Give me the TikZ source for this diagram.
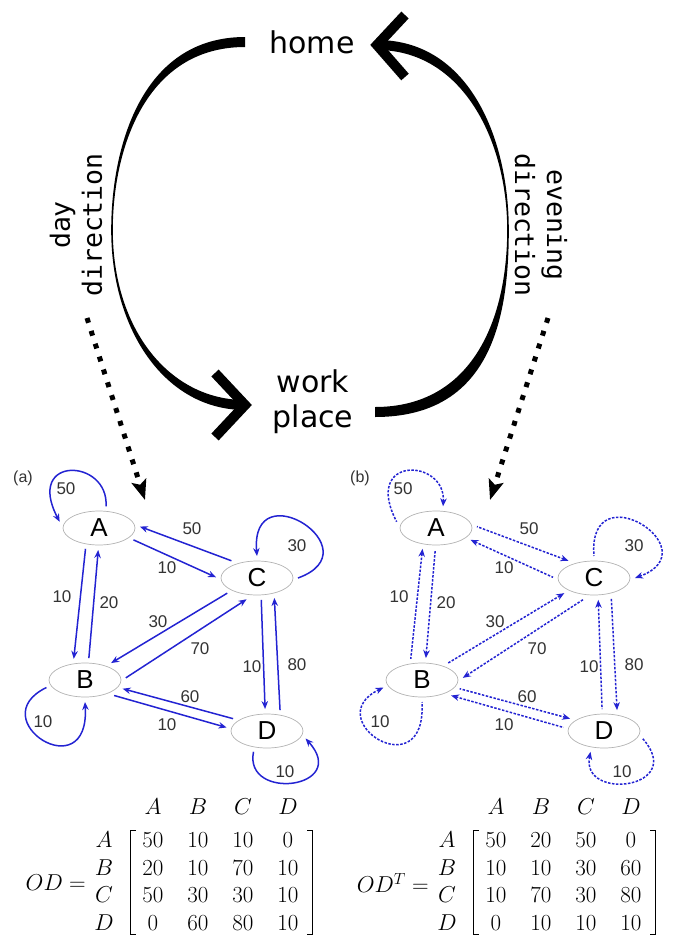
\RequirePackage{fix-cm}
\documentclass[tikz,border=0pt]{standalone}
\usepackage[no-math]{fontspec}
\setmainfont{Liberation Sans}
\newfontfamily\handfont{DejaVu Sans}
\newfontfamily\monofont{DejaVu Sans Mono}
\usetikzlibrary{arrows.meta,shapes.geometric,matrix}
\definecolor{odblue}{RGB}{35,35,210}
\definecolor{labgray}{RGB}{51,51,51}
\tikzset{
  zone/.style={ellipse, draw=gray!60, line width=0.7pt, minimum width=72pt, minimum height=34pt, inner sep=0pt, outer sep=5pt, font=\fontsize{26}{26}\selectfont},
  flowa/.style={draw=odblue, line width=1.5pt, -{Stealth[length=8pt,width=6.5pt]}},
  flowb/.style={draw=odblue, line width=1.5pt, dash pattern=on 2.5pt off 1.5pt, {Stealth[length=8pt,width=6.5pt]}-},
  wt/.style={text=labgray, font=\fontsize{17}{17}\selectfont, inner sep=0pt},
  panel/.style={text=labgray, font=\fontsize{16}{16}\selectfont, inner sep=0pt},
  hand/.style={font=\handfont\fontsize{30}{35}\selectfont, align=center, inner sep=0pt},
  dirtext/.style={font=\monofont\fontsize{26.5}{32}\selectfont, align=center, inner sep=0pt},
  chev/.style={line width=10pt, miter limit=10, line join=miter},
  dots/.style={line width=5pt, dash pattern=on 5pt off 8.5pt, -{Stealth[length=20pt,width=15pt,inset=4pt]}},
  odmat/.style={matrix of math nodes, inner sep=0pt, column sep=15pt, row sep=8.5pt,
    nodes={minimum width=30pt, text height=15pt, text depth=4pt, inner sep=0pt, font=\fontsize{23}{27}\selectfont},
    column 1/.style={nodes={minimum width=38pt}}},
  brk/.style={line width=1.1pt}
}
\begin{document}
\begin{tikzpicture}[x=1pt, y=-1pt]
\useasboundingbox (0,0) rectangle (674,938);

% day / evening cycle
\node[hand] (home) at (312,42) {home};
\node[hand] (work) at (313,402) {work\\place};
\node[dirtext, rotate=90] (dayLbl) at (76,225) {day\\direction};
\node[dirtext, rotate=-90] (eveLbl) at (541,225) {evening\\direction};

\coordinate (dayS) at (245,42);
\coordinate (dayM) at (112,230);
\coordinate (dayE) at (245,405);
\coordinate (eveS) at (375,412);
\coordinate (eveM) at (508,230);
\coordinate (eveE) at (377,45);

\fill ([yshift=5pt]dayS) .. controls +(-105,0) and +(0,-80) .. ([xshift=-0.8pt]dayM)
  .. controls +(0,100) and +(-80,0) .. ([yshift=-5pt]dayE) -- ([yshift=5pt]dayE)
  .. controls +(-75,0) and +(0,100) .. ([xshift=0.8pt]dayM)
  .. controls +(0,-80) and +(-100,0) .. ([yshift=-5pt]dayS) -- cycle;
\draw[chev] ([shift={(-30,-32)}]dayE) -- (dayE) -- ([shift={(-30,32)}]dayE);

\fill ([yshift=-5pt]eveS) .. controls +(115,0) and +(0,90) .. ([xshift=0.8pt]eveM)
  .. controls +(0,-90) and +(93,0) .. ([yshift=5pt]eveE) -- ([yshift=-5pt]eveE)
  .. controls +(85,0) and +(0,-90) .. ([xshift=-0.8pt]eveM)
  .. controls +(0,90) and +(97,0) .. ([yshift=5pt]eveS) -- cycle;
\draw[chev] ([shift={(28,-30)}]eveE) -- (eveE) -- ([shift={(28,32)}]eveE);

\coordinate (dayTail) at (87,318);
\coordinate (dayTip) at (145,500);
\coordinate (eveTail) at (548,318);
\coordinate (eveTip) at (490,500);
\draw[dots] (dayTail) -- (dayTip);
\draw[dots] (eveTail) -- (eveTip);

% the two flow graphs, (b) is (a) with every flow reversed
\foreach \dx/\pan/\kind in {0/a/flowa, 337/b/flowb} {
  \node[panel] (tag\pan) at (23+\dx,478) {(\pan)};
  \node[zone] (A\pan) at (99+\dx,528) {A};
  \node[zone] (C\pan) at (257+\dx,578) {C};
  \node[zone] (B\pan) at (85+\dx,680) {B};
  \node[zone] (D\pan) at (267+\dx,731) {D};
  \foreach \src/\sa/\dst/\da in {C/146/A/2, A/-19/C/179, A/237/B/118, B/80/A/268, C/207/B/33,
      B/3/C/244, C/281/D/95, D/58/C/311, D/160/B/347, B/332/D/175}
    \draw[\kind] (\src\pan.\sa) -- (\dst\pan.\da);
  \draw[\kind] (A\pan.72) .. controls +(3,-48) and +(-35,-67) .. (A\pan.171);
  \draw[\kind] (C\pan.0) .. controls +(77,-28) and +(-7,-86) .. (C\pan.90);
  \draw[\kind] (B\pan.191) .. controls +(-66,32) and +(5,88) .. (B\pan.270);
  \draw[\kind] (D\pan.237) .. controls +(-10,50) and +(45,50) .. (D\pan.349);
  \foreach \i/\x/\y/\w in {1/66/489/50, 2/192/529/50, 3/167/568/10, 4/297/546/30, 5/62/597/10,
      6/109/603/20, 7/158/622/30, 8/200/649/70, 9/252/667/10, 10/297/665/80,
      11/190/697/60, 12/167/725/10, 13/43/722/10, 14/285/772/10}
    \node[wt] (w\i\pan) at (\x+\dx,\y) {\w};
}

% matrices
\matrix (ODa) [odmat] at (194,866.75) {
    & A  & B  & C  & D  \\[5.5pt]
  A & 50 & 10 & 10 & 0  \\
  B & 20 & 10 & 70 & 10 \\
  C & 50 & 30 & 30 & 10 \\
  D & 0  & 60 & 80 & 10 \\
};
\node[anchor=east, inner sep=0pt, font=\fontsize{23}{27}\selectfont] (ODaeq) at (86,883) {$OD=$};
\draw[brk] ([xshift=-2pt,yshift=2pt]ODa-2-2.north west) -- ([xshift=-7pt,yshift=2pt]ODa-2-2.north west)
  -- ([xshift=-7pt]ODa-5-2.south west) -- ([xshift=-2pt]ODa-5-2.south west);
\draw[brk] ([xshift=4pt,yshift=2pt]ODa-2-5.north east) -- ([xshift=9pt,yshift=2pt]ODa-2-5.north east)
  -- ([xshift=9pt]ODa-5-5.south east) -- ([xshift=4pt]ODa-5-5.south east);

\matrix (ODb) [odmat] at (537,866.75) {
    & A  & B  & C  & D  \\[5.5pt]
  A & 50 & 20 & 50 & 0  \\
  B & 10 & 10 & 30 & 60 \\
  C & 10 & 70 & 30 & 80 \\
  D & 0  & 10 & 10 & 10 \\
};
\node[anchor=east, inner sep=0pt, font=\fontsize{23}{27}\selectfont] (ODbeq) at (429,883) {$OD^T=$};
\draw[brk] ([xshift=-2pt,yshift=2pt]ODb-2-2.north west) -- ([xshift=-7pt,yshift=2pt]ODb-2-2.north west)
  -- ([xshift=-7pt]ODb-5-2.south west) -- ([xshift=-2pt]ODb-5-2.south west);
\draw[brk] ([xshift=4pt,yshift=2pt]ODb-2-5.north east) -- ([xshift=9pt,yshift=2pt]ODb-2-5.north east)
  -- ([xshift=9pt]ODb-5-5.south east) -- ([xshift=4pt]ODb-5-5.south east);
\end{tikzpicture}
\end{document}
